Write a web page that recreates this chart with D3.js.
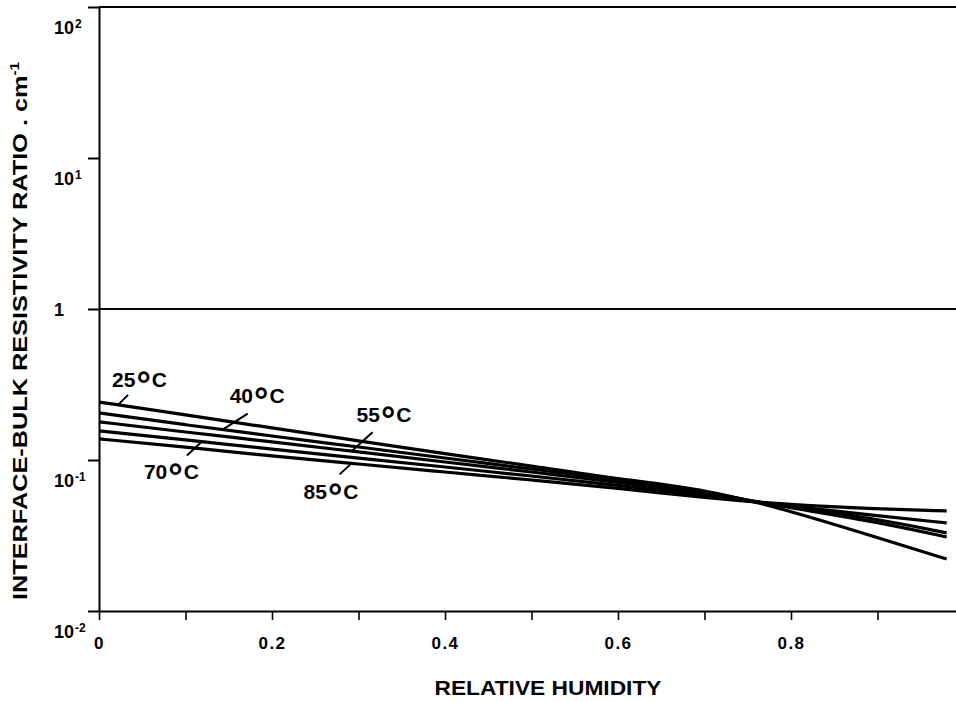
<!DOCTYPE html>
<html>
<head>
<meta charset="utf-8">
<script src="https://cdn.jsdelivr.net/npm/d3@7/dist/d3.min.js"></script>
<style>
  html, body { margin: 0; padding: 0; background: #fff; }
  svg { display: block; }
  text { font-family: "Liberation Sans", Arial, sans-serif; font-weight: bold; fill: #000; }
</style>
</head>
<body>
<svg id="chart" width="956" height="702"></svg>
<script>
// Relative humidity sample points
const humidity = [0, 0.1, 0.2, 0.3, 0.4, 0.5, 0.6, 0.7, 0.8, 0.9, 0.98];

// Temperature series names
const temperatures = ["25", "40", "55", "70", "85"];

// Interface-bulk resistivity ratio (cm^-1) for each temperature
const ratio25 = [0.242, 0.199, 0.163, 0.134, 0.110, 0.0913, 0.0748, 0.0643, 0.0460, 0.0306, 0.0221];
const ratio40 = [0.205, 0.171, 0.144, 0.122, 0.103, 0.0872, 0.0737, 0.0614, 0.0481, 0.0389, 0.0309];
const ratio55 = [0.179, 0.153, 0.132, 0.113, 0.097, 0.0833, 0.0715, 0.0595, 0.0488, 0.0407, 0.0329];
const ratio70 = [0.156, 0.136, 0.118, 0.103, 0.0899, 0.0783, 0.0683, 0.0577, 0.0496, 0.0426, 0.0383];
const ratio85 = [0.138, 0.122, 0.106, 0.0941, 0.0833, 0.0737, 0.0653, 0.0560, 0.0504, 0.0474, 0.0460];

// Axis ticks
const xTicks = [0, 0.1, 0.2, 0.3, 0.4, 0.5, 0.6, 0.7, 0.8, 0.9];
const xTickLabels = ["0", "", "0.2", "", "0.4", "", "0.6", "", "0.8", ""];
const yTicks = [0.01, 0.1, 1, 10, 100];
const yTickBase = ["10", "10", "1", "10", "10"];
const yTickExp = ["-2", "-1", "", "1", "2"];

const series = [ratio25, ratio40, ratio55, ratio70, ratio85];

const W = 956, H = 702;
const svg = d3.select("#chart");

const x = d3.scaleLinear().domain([0, 1]).range([99, 964]);
const y = d3.scaleLog().domain([0.01, 100]).range([611, 7]);

// Top frame line at 10^2
svg.append("line")
  .attr("x1", x(0)).attr("x2", W)
  .attr("y1", y(100)).attr("y2", y(100))
  .attr("stroke", "#000").attr("stroke-width", 2);

// Reference line at ratio = 1
svg.append("line")
  .attr("x1", x(0)).attr("x2", W)
  .attr("y1", y(1)).attr("y2", y(1))
  .attr("stroke", "#000").attr("stroke-width", 2);

// Bottom axis
const xAxis = d3.axisBottom(x)
  .tickValues(xTicks)
  .tickSize(9)
  .tickSizeOuter(0)
  .tickPadding(17)
  .tickFormat((d, i) => xTickLabels[i]);

const gx = svg.append("g")
  .attr("transform", `translate(0,${y(0.01)})`)
  .call(xAxis);
gx.select(".domain").attr("stroke-width", 2);
gx.selectAll(".tick line").attr("stroke-width", 1.6);
gx.selectAll(".tick text")
  .attr("font-size", 17)
  .attr("letter-spacing", 1.5)
  .attr("font-family", "Liberation Sans, Arial, sans-serif")
  .attr("font-weight", "bold");

// Left axis
const yAxis = d3.axisLeft(y)
  .tickValues(yTicks)
  .tickSize(11)
  .tickSizeOuter(0)
  .tickFormat("");

const gy = svg.append("g")
  .attr("transform", `translate(${x(0)},0)`)
  .call(yAxis);
gy.select(".domain").attr("stroke-width", 2);
gy.selectAll(".tick line").attr("stroke-width", 2);

// Decade labels: powers of ten sit below their tick, "1" sits on it
yTicks.forEach((v, i) => {
  const t = svg.append("text")
    .attr("x", 54)
    .attr("y", y(v) + (yTickExp[i] ? 21 : 1))
    .attr("dy", "0.35em")
    .attr("font-size", 18);
  t.append("tspan").text(yTickBase[i]);
  if (yTickExp[i]) {
    t.append("tspan")
      .attr("font-size", 12)
      .attr("dy", -6)
      .attr("dx", 1)
      .text(yTickExp[i]);
  }
});

// Curves
const line = d3.line()
  .x((d, i) => x(humidity[i]))
  .y(d => y(d))
  .curve(d3.curveBasis);

svg.append("g")
  .selectAll("path")
  .data(series)
  .join("path")
  .attr("d", line)
  .attr("fill", "none")
  .attr("stroke", "#000")
  .attr("stroke-width", 3.2);

// Curve labels with leader lines; `at` is the humidity where the leader meets the curve
const notes = [
  { s: 0, at: 0.022, lx: 10, ly: -10, tx: -6, ty: -18 },
  { s: 1, at: 0.143, lx: 25, ly: -16, tx: 7, ty: -27 },
  { s: 2, at: 0.292, lx: 21, ly: -19, tx: 5, ty: -29 },
  { s: 3, at: 0.119, lx: -15, ly: 14, tx: -58, ty: 37 },
  { s: 4, at: 0.292, lx: -12, ly: 11, tx: -48, ty: 36 }
];

const interp = (arr, h) => {
  const i = d3.bisectRight(humidity, h) - 1;
  const j = Math.min(i + 1, humidity.length - 1);
  const f = j === i ? 0 : (h - humidity[i]) / (humidity[j] - humidity[i]);
  return Math.exp(Math.log(arr[i]) * (1 - f) + Math.log(arr[j]) * f);
};

notes.forEach(n => {
  const px = x(n.at);
  const py = y(interp(series[n.s], n.at));
  svg.append("line")
    .attr("x1", px).attr("y1", py)
    .attr("x2", px + n.lx).attr("y2", py + n.ly)
    .attr("stroke", "#000").attr("stroke-width", 2);
  const t = svg.append("text")
    .attr("x", px + n.tx)
    .attr("y", py + n.ty)
    .attr("font-size", 21);
  t.append("tspan").text(temperatures[n.s]);
  t.append("tspan").attr("font-size", 36).attr("dy", 10).attr("dx", 1).text("°");
  t.append("tspan").attr("dy", -10).attr("dx", 1).text("C");
});

// Axis titles
svg.append("text")
  .attr("x", 548)
  .attr("y", 695)
  .attr("text-anchor", "middle")
  .attr("font-size", 20)
  .attr("textLength", 227)
  .attr("lengthAdjust", "spacingAndGlyphs")
  .text("RELATIVE HUMIDITY");

const yt = svg.append("text")
  .attr("transform", "translate(27,331) rotate(-90)")
  .attr("text-anchor", "middle")
  .attr("font-size", 20)
  .attr("textLength", 538)
  .attr("lengthAdjust", "spacingAndGlyphs");
yt.append("tspan").text("INTERFACE-BULK RESISTIVITY RATIO . cm");
yt.append("tspan").attr("font-size", 12).attr("dy", -8).text("-1");
</script>
</body>
</html>
